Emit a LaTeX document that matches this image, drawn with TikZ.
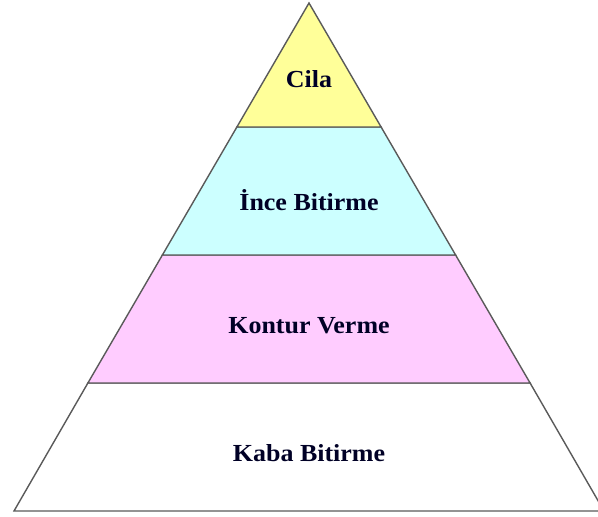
\documentclass[tikz,border=0pt]{standalone}
\usepackage{fontspec}
\setmainfont{Liberation Serif}
\definecolor{lineg}{HTML}{5A5A5A}
\definecolor{yel}{HTML}{FFFF99}
\definecolor{cyn}{HTML}{CCFFFF}
\definecolor{pnk}{HTML}{FFCCFF}
\tikzset{
  band/.style={draw=lineg, line width=1.4pt, line join=miter},
  lbl/.style={font=\bfseries\fontsize{24.5}{27}\selectfont, text=black!85!blue, inner sep=0pt, xscale=1.06}
}
\begin{document}
\begin{tikzpicture}[x=1pt,y=-1pt]
\useasboundingbox (0,0) rectangle (598,517);
\begin{scope}
\clip (0,0) rectangle (598,517);
\fill[white] (0,0) rectangle (598,517);
\filldraw[band, fill=white] (87.9,383) -- (530.1,383) -- (604,511) -- (14,511) -- cycle;
\filldraw[band, fill=pnk] (162.4,255) -- (455.6,255) -- (530.1,383) -- (87.9,383) -- cycle;
\filldraw[band, fill=cyn] (236.9,127) -- (381.1,127) -- (455.6,255) -- (162.4,255) -- cycle;
\filldraw[band, fill=yel] (309,3) -- (381.1,127) -- (236.9,127) -- cycle;
\end{scope}
\node[lbl] (cila) at (309,79) {Cila};
\node[lbl] (ince) at (309,200) {İnce Bitirme};
\node[lbl] (kontur) at (309,326) {Kontur Verme};
\node[lbl] (kaba) at (309,453) {Kaba Bitirme};
\end{tikzpicture}
\end{document}
